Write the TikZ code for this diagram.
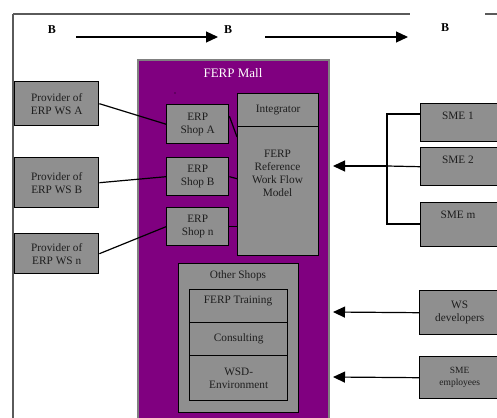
\documentclass[tikz,border=0pt]{standalone}
\usepackage{fontspec}
\setmainfont{Liberation Serif}
\usetikzlibrary{arrows.meta}
\definecolor{boxgray}{RGB}{143,143,143}
\definecolor{mallpurple}{RGB}{128,0,128}
\definecolor{framegray}{RGB}{90,90,90}
\definecolor{txt}{RGB}{30,30,30}
\begin{document}
\begin{tikzpicture}[x=1pt,y=-1pt,
  box/.style={draw=black, line width=1.4pt, fill=boxgray, inner sep=0pt, anchor=north west,
    align=center, text=txt, font=\fontsize{11.3}{13}\selectfont},
  lbl/.style={inner sep=0pt, align=center, text=txt, font=\fontsize{11.3}{13}\selectfont},
  conn/.style={draw=black, line width=1.2pt},
  arr/.style={draw=black, line width=1.2pt, -{Triangle[length=12pt,width=11pt]}},
  blab/.style={inner sep=0pt, font=\bfseries\fontsize{12}{13}\selectfont}]
\useasboundingbox (0,0) rectangle (497,417);
% frame
\draw[framegray, line width=1.3pt] (13,14) -- (410,14);
\draw[framegray, line width=1.3pt] (485,14) -- (500,14);
\draw[framegray, line width=1.3pt] (13,14) -- (13,420);
% B labels
\node[blab] (b1) at (52,30) {B};
\node[blab] (b2) at (228,30) {B};
\node[blab] (b3) at (445,28) {B};
\coordinate (ba1) at (76,37);
\coordinate (ba1e) at (218,37);
\coordinate (ba2) at (265,37);
\coordinate (ba2e) at (408,37);
\draw[arr] (ba1) -- (ba1e);
\draw[arr] (ba2) -- (ba2e);
% mall
\draw[draw=gray, line width=1.5pt, fill=mallpurple] (138,60) rectangle (329,430);
\node[inner sep=0pt, text=white, font=\fontsize{13}{15}\selectfont] (mall) at (233,73) {FERP Mall};
\fill[black] (175,93) circle (0.6pt);
% providers
\node[box, minimum width=84pt, minimum height=44pt] (pA) at (14,81) {Provider of\\ERP WS A};
\node[box, minimum width=84pt, minimum height=50pt] (pB) at (14,157) {Provider of\\ERP WS B};
\node[box, minimum width=84pt, minimum height=40pt] (pN) at (14,233) {Provider of\\ERP WS n};
% shops
\node[box, minimum width=62pt, minimum height=39pt] (sA) at (166,104) {ERP\\Shop A};
\node[box, minimum width=62pt, minimum height=38pt] (sB) at (166,157) {ERP\\Shop B};
\node[box, minimum width=62pt, minimum height=38pt] (sN) at (166,207) {ERP\\Shop n};
% integrator and reference model
\node[box, minimum width=81pt, minimum height=33pt] (integ) at (237,93) {Integrator};
\node[box, minimum width=81pt, minimum height=129pt] (frm) at (237,126) {};
\node[lbl] (frmt) at (277.5,173) {FERP\\Reference\\Work Flow\\Model};
% other shops
\node[box, minimum width=120pt, minimum height=149pt] (oth) at (178,263) {};
\node[lbl] (otht) at (238,276) {Other Shops};
\node[box, minimum width=98pt, minimum height=33pt] (trn) at (189,289) {};
\node[lbl] (trnt) at (238,301) {FERP Training};
\node[box, minimum width=98pt, minimum height=33pt] (cns) at (189,322) {Consulting};
\node[box, minimum width=98pt, minimum height=45pt] (wsd) at (189,355) {WSD-\\Environment};
% SMEs
\node[box, minimum width=80pt, minimum height=38pt] (s1) at (420,103) {};
\node[lbl] (s1t) at (458,116) {SME 1};
\node[box, minimum width=80pt, minimum height=38pt] (s2) at (420,147) {};
\node[lbl] (s2t) at (458,160) {SME 2};
\node[box, minimum width=80pt, minimum height=44pt] (sm) at (420,202) {};
\node[lbl] (smt) at (458,215) {SME m};
\node[box, minimum width=80pt, minimum height=44pt] (wd) at (419,290) {WS\\developers};
\node[box, minimum width=80pt, minimum height=42pt, font=\fontsize{9.5}{12}\selectfont] (se) at (419,356) {SME\\employees};
% connectors left
\draw[conn] (pA.east) -- (sA.west);
\draw[conn] (pB.east) -- (sB.west);
\draw[conn] (pN.east) -- (sN.west);
\draw[conn] ([yshift=8pt]sA.east) -- ([yshift=-11pt]frm.north west);
\draw[conn] (sB.east) -- ([yshift=-2pt]sB.east -| frm.west);
\draw[conn] (sN.east) -- (sN.east -| frm.west);
% SME bracket
\coordinate (jt) at (387,114);
\coordinate (jb) at (387,224);
\coordinate (jm) at (387,166);
\coordinate (tip1) at (333,166);
\draw[conn] (jt -| s1.west) -- (jt) -- (jb) -- (jb -| sm.west);
\draw[conn] (s2.west) -- (jm);
\draw[arr] (jm) -- (tip1);
% other arrows
\coordinate (tip2) at (333,312);
\coordinate (tip3) at (333,377);
\draw[arr] (wd.west) -- (tip2);
\draw[arr] (se.west) -- (tip3);
\end{tikzpicture}
\end{document}
